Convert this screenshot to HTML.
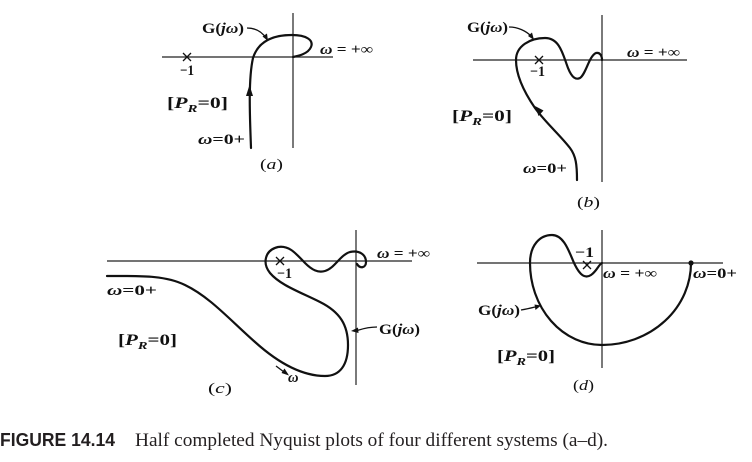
<!DOCTYPE html>
<html><head><meta charset="utf-8">
<style>
html,body{margin:0;padding:0;background:#fff;}
body{width:752px;height:462px;overflow:hidden;position:relative;}
svg{position:absolute;left:0;top:0;}
.t{font-family:"Liberation Serif",serif;font-size:14.5px;fill:#111;font-weight:bold;}
.p{font-family:"Liberation Serif",serif;font-size:16px;fill:#111;font-weight:bold;}
.l{font-family:"Liberation Serif",serif;font-size:15px;fill:#111;}
.ax{stroke:#222;stroke-width:1.2;fill:none;}
.cv{stroke:#111;stroke-width:2.2;fill:none;stroke-linecap:round;stroke-linejoin:round;}
.ld{stroke:#111;stroke-width:1.3;fill:none;}
.ah{fill:#111;}
.cap1{font-family:"Liberation Sans",sans-serif;font-weight:bold;font-size:18px;fill:#231f20;}
.cap2{font-family:"Liberation Serif",serif;font-size:19px;fill:#231f20;}
</style></head><body>
<svg width="752" height="462" viewBox="0 0 752 462" xmlns="http://www.w3.org/2000/svg">
<!-- (a) -->
<line class="ax" x1="162" y1="57" x2="333" y2="57"/>
<line class="ax" x1="293" y1="13" x2="293" y2="148"/>
<path class="ld" d="M183,53 L191,61 M191,53 L183,61"/>
<text class="t" x="180" y="75" textLength="14" lengthAdjust="spacingAndGlyphs">−1</text>
<path class="cv" d="M251,148 C250,120 248,80 253,58 C258,42 272,35 292,35 C306,35 314,40 311,47 C308,54 298,56 293,57"/>
<polygon class="ah" points="249.5,85 246,96 253,96"/>
<path class="ld" d="M247,28 C256,28 262,32 266,38"/>
<polygon class="ah" points="268,41 262.5,36.5 267,33.5"/>
<text class="t" x="202" y="33" textLength="42" lengthAdjust="spacingAndGlyphs">G(<tspan font-style="italic">jω</tspan>)</text>
<text class="t" x="320" y="54" textLength="53" lengthAdjust="spacingAndGlyphs"><tspan font-style="italic">ω</tspan> = +∞</text>
<text class="p" x="167" y="108" textLength="61" lengthAdjust="spacingAndGlyphs">[<tspan font-style="italic">P</tspan><tspan font-style="italic" font-size="11" dy="4">R</tspan><tspan dy="-4">=0]</tspan></text>
<text class="t" x="198" y="144" textLength="47" lengthAdjust="spacingAndGlyphs"><tspan font-style="italic">ω</tspan>=0+</text>
<text class="l" x="260" y="169" textLength="23" lengthAdjust="spacingAndGlyphs">(<tspan font-style="italic">a</tspan>)</text>

<!-- (b) -->
<line class="ax" x1="473" y1="60" x2="687" y2="60"/>
<line class="ax" x1="602" y1="15" x2="602" y2="182"/>
<path class="ld" d="M535,56 L543,64 M543,56 L535,64"/>
<text class="t" x="530" y="76" textLength="15" lengthAdjust="spacingAndGlyphs">−1</text>
<path class="cv" d="M577,180 C577,165 576,156 570,148 C560,135 545,122 535,108 C524,92 516,75 516,60 C516,46 530,38 545,38 C560,38 563,55 568,68 C572,78 576,80 580,78 C586,74 589,56 596,53 C600,52 602,56 602,60"/>
<polygon class="ah" points="535,106 543.5,110.5 538.5,116"/>
<path class="ld" d="M509,27 C518,27 526,31 531,36"/>
<polygon class="ah" points="534,40 528,36 532,32.5"/>
<text class="t" x="467" y="32" textLength="41" lengthAdjust="spacingAndGlyphs">G(<tspan font-style="italic">jω</tspan>)</text>
<text class="t" x="627" y="57" textLength="53" lengthAdjust="spacingAndGlyphs"><tspan font-style="italic">ω</tspan> = +∞</text>
<text class="p" x="452" y="121" textLength="60" lengthAdjust="spacingAndGlyphs">[<tspan font-style="italic">P</tspan><tspan font-style="italic" font-size="11" dy="4">R</tspan><tspan dy="-4">=0]</tspan></text>
<text class="t" x="523" y="173" textLength="44" lengthAdjust="spacingAndGlyphs"><tspan font-style="italic">ω</tspan>=0+</text>
<text class="l" x="577" y="207" textLength="23" lengthAdjust="spacingAndGlyphs">(<tspan font-style="italic">b</tspan>)</text>

<!-- (c) -->
<line class="ax" x1="107" y1="261" x2="412" y2="261"/>
<line class="ax" x1="356" y1="230" x2="356" y2="385"/>
<path class="ld" d="M276,257 L284,265 M284,257 L276,265"/>
<text class="t" x="277" y="278" textLength="15" lengthAdjust="spacingAndGlyphs">−1</text>
<path class="cv" d="M107,276 C140,276 165,275 185,285 C210,297 230,320 255,342 C275,360 300,376 325,376 C340,376 348,365 348,345 C348,325 340,312 320,302 C300,292 280,285 270,273 C262,263 265,250 278,247 C290,245 297,255 305,263 C312,270 318,273 325,271 C335,268 340,255 350,252 C360,250 366,255 366,262 C366,268 360,269 357,264"/>
<path class="ld" d="M377,327 C368,327 362,329 357,330.5"/>
<polygon class="ah" points="351,331 358,327.5 358.5,333"/>
<text class="t" x="379" y="334" textLength="41" lengthAdjust="spacingAndGlyphs">G(<tspan font-style="italic">jω</tspan>)</text>
<text class="t" x="377" y="258" textLength="53" lengthAdjust="spacingAndGlyphs"><tspan font-style="italic">ω</tspan> = +∞</text>
<text class="t" x="107" y="295" textLength="50" lengthAdjust="spacingAndGlyphs"><tspan font-style="italic">ω</tspan>=0+</text>
<text class="p" x="118" y="345" textLength="59" lengthAdjust="spacingAndGlyphs">[<tspan font-style="italic">P</tspan><tspan font-style="italic" font-size="11" dy="4">R</tspan><tspan dy="-4">=0]</tspan></text>
<line class="ld" x1="276" y1="366" x2="284" y2="372"/>
<polygon class="ah" points="289,375.5 281.5,373 284.5,368.5"/>
<text class="t" x="288" y="382" font-style="italic">ω</text>
<text class="l" x="208" y="393" textLength="24" lengthAdjust="spacingAndGlyphs">(<tspan font-style="italic">c</tspan>)</text>

<!-- (d) -->
<line class="ax" x1="477" y1="263" x2="723" y2="263"/>
<line class="ax" x1="602" y1="230" x2="602" y2="368"/>
<path class="ld" d="M583,261 L591,269 M591,261 L583,269"/>
<text class="t" x="575" y="257" textLength="19" lengthAdjust="spacingAndGlyphs">−1</text>
<circle cx="691" cy="263" r="2.6" fill="#111"/>
<path class="cv" d="M691,263 A89,82 0 0 1 602,345 A72,82 0 0 1 530,263 C530,245 540,235 552,235 C565,235 570,255 575,265 C580,275 585,279 591,275 C597,271 599,264 602,263"/>
<path class="ld" d="M521,310 C527,309 531,308 535,307"/>
<polygon class="ah" points="541,305.5 534.5,304.5 535.5,310"/>
<text class="t" x="478" y="315" textLength="42" lengthAdjust="spacingAndGlyphs">G(<tspan font-style="italic">jω</tspan>)</text>
<text class="t" x="603" y="278" textLength="54" lengthAdjust="spacingAndGlyphs"><tspan font-style="italic">ω</tspan> = +∞</text>
<text class="t" x="693" y="278" textLength="44" lengthAdjust="spacingAndGlyphs"><tspan font-style="italic">ω</tspan>=0+</text>
<text class="p" x="497" y="361" textLength="58" lengthAdjust="spacingAndGlyphs">[<tspan font-style="italic">P</tspan><tspan font-style="italic" font-size="11" dy="4">R</tspan><tspan dy="-4">=0]</tspan></text>
<text class="l" x="573" y="390" textLength="21" lengthAdjust="spacingAndGlyphs">(<tspan font-style="italic">d</tspan>)</text>

<!-- caption -->
<text class="cap1" x="0" y="446" textLength="115" lengthAdjust="spacingAndGlyphs">FIGURE 14.14</text>
<text class="cap2" x="135" y="446" textLength="473" lengthAdjust="spacingAndGlyphs">Half completed Nyquist plots of four different systems (a–d).</text>
</svg>
</body></html>
